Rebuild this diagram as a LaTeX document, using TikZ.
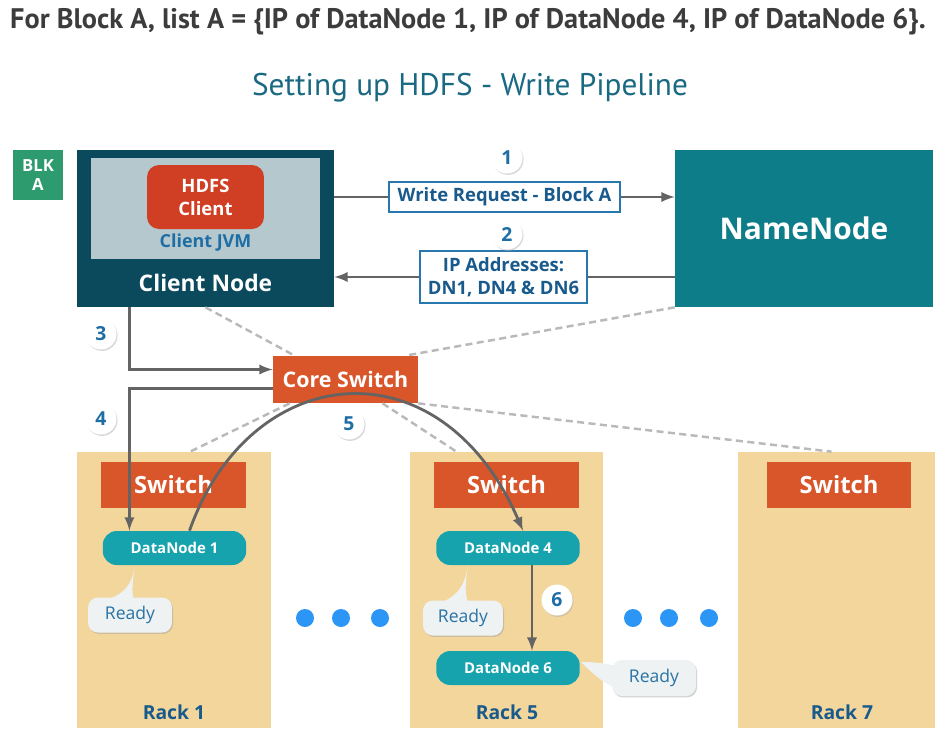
\documentclass[tikz,border=0pt]{standalone}
\usepackage{fontspec}
\setmainfont{Open Sans}
\newfontfamily\headfont{PT Sans}
\usepackage{tikz}
\usetikzlibrary{positioning}
\usetikzlibrary{shapes,arrows,shadows}
\definecolor{clientdark}{RGB}{11,74,92}
\definecolor{jvmgray}{RGB}{180,200,205}
\definecolor{hdfsred}{RGB}{208,63,36}
\definecolor{jvmblue}{RGB}{30,110,165}
\definecolor{nameteal}{RGB}{14,125,138}
\definecolor{msgblue}{RGB}{40,120,175}
\definecolor{msgtext}{RGB}{25,90,140}
\definecolor{arrowgray}{RGB}{100,100,100}
\definecolor{switchorange}{RGB}{217,85,42}
\definecolor{racktan}{RGB}{243,214,156}
\definecolor{dnteal}{RGB}{22,163,174}
\definecolor{readybg}{RGB}{238,242,242}
\definecolor{readytext}{RGB}{40,115,165}
\definecolor{dotblue}{RGB}{43,150,245}
\definecolor{blkgreen}{RGB}{46,155,110}
\definecolor{titlegray}{RGB}{60,60,60}
\definecolor{subteal}{RGB}{25,105,130}
\definecolor{linkgray}{RGB}{185,185,185}

\begin{document}
\begin{tikzpicture}[x=0.02cm,y=-0.02cm]
\tikzstyle{block}=[rectangle, inner sep=0pt, text=white, font=\bfseries]
\tikzstyle{rack}=[rectangle, fill=racktan, inner sep=0pt, minimum height=5.52cm]
\tikzstyle{switchbox}=[block, fill=switchorange, minimum width=2.9cm, minimum height=0.92cm, font=\fontsize{13.5}{16}\bfseries]
\tikzstyle{datanode}=[block, rounded corners=0.28cm, fill=dnteal, minimum width=2.87cm, minimum height=0.68cm, font=\fontsize{8.5}{10}\bfseries]
\tikzstyle{ready}=[rectangle, rounded corners=0.2cm, fill=readybg, text=readytext, inner sep=0pt, minimum height=0.7cm, font=\fontsize{10}{12}\selectfont, drop shadow={shadow xshift=0.6pt, shadow yshift=-0.8pt, fill=black!35}]
\tikzstyle{msg}=[rectangle, draw=msgblue, line width=1.2pt, fill=white, text=msgtext, inner sep=0pt, align=center, font=\fontsize{10.5}{13}\bfseries]
\tikzstyle{stepmark}=[circle, fill=white, text=jvmblue, inner sep=0pt, minimum size=0.62cm, font=\fontsize{11}{12}\bfseries, drop shadow={shadow xshift=0.6pt, shadow yshift=-0.8pt, fill=black!30}]
\tikzstyle{dot}=[circle, fill=dotblue, inner sep=0pt, minimum size=0.36cm]
\tikzstyle{racklabel}=[text=msgtext, font=\fontsize{11}{13}\bfseries]
\tikzstyle{connect}=[-latex, line width=1.6pt, draw=arrowgray]
\tikzstyle{plain}=[line width=1.6pt, draw=arrowgray]
\tikzstyle{link}=[dashed, dash pattern=on 4pt off 2.5pt, line width=1.4pt, draw=linkgray]
\useasboundingbox (0,0) rectangle (943,735);
	\node[text=titlegray, font=\headfont\fontsize{16.1}{19}\bfseries] (title) at (468,22) {For Block A, list A = \{IP of DataNode 1, IP of DataNode 4, IP of DataNode 6\}.};
	\node[text=subteal, font=\headfont\fontsize{17.8}{21}\selectfont] (heading) at (470,88) {Setting up HDFS - Write Pipeline};

	\node[block, fill=blkgreen, minimum size=1cm, align=center, font=\fontsize{9.5}{11}\bfseries] (blk) at (38,175) {BLK\\A};
	\node[block, fill=clientdark, minimum width=5.14cm, minimum height=3.14cm] (client) at (205.5,228.5) {};
	\node[block, fill=jvmgray, minimum width=4.58cm, minimum height=2.02cm] (jvm) at (205.5,208.5) {};
	\node[block, fill=hdfsred, rounded corners=0.24cm, minimum width=2.34cm, minimum height=1.28cm, align=center, font=\fontsize{10.5}{13}\bfseries] (hdfs) at (205.5,197) {HDFS\\Client};
	\node[text=jvmblue, font=\fontsize{10.2}{12}\bfseries] (jvmlabel) at (205.5,243) {Client JVM};
	\node[text=white, font=\fontsize{13}{15}\bfseries] (clientlabel) at (205.5,283) {Client Node};
	\node[block, fill=nameteal, minimum width=5.16cm, minimum height=3.14cm, font=\fontsize{17}{20}\bfseries] (namenode) at (804,228.5) {NameNode};

	\node[msg, minimum width=4.62cm, minimum height=0.6cm] (req) at (504.5,197) {Write Request - Block A};
	\node[msg, minimum width=3.34cm, minimum height=1.04cm] (ip) at (503.5,277) {IP Addresses:\\DN1, DN4 \& DN6};

	\node[block, fill=switchorange, minimum width=2.9cm, minimum height=0.94cm, font=\fontsize{12.2}{14}\bfseries] (core) at (345.5,379.5) {Core Switch};

	\node[rack, minimum width=3.88cm] (rack1) at (174,590) {};
	\node[rack, minimum width=3.86cm] (rack5) at (506.5,590) {};
	\node[rack, minimum width=3.94cm] (rack7) at (836.5,590) {};
	\node[switchbox] (sw1) at (173.5,485) {Switch};
	\node[switchbox] (sw5) at (506.5,485) {Switch};
	\node[switchbox] (sw7) at (839,485) {Switch};
	\node[racklabel] (rack1label) at (174,712) {Rack 1};
	\node[racklabel] (rack5label) at (507,712) {Rack 5};
	\node[racklabel] (rack7label) at (842,712) {Rack 7};

	\node[datanode] (dn1) at (174.5,548) {DataNode 1};
	\node[datanode] (dn4) at (508,548) {DataNode 4};
	\node[datanode] (dn6) at (508,668) {DataNode 6};

	\node[ready, minimum width=1.68cm] (ready1) at (130,615) {Ready};
	\fill[readybg] (100,602) .. controls (125,595) and (132,585) .. (135,565) .. controls (133,580) and (131,590) .. (134,600) -- cycle;
	\node[ready, minimum width=1.6cm] (ready4) at (463,618) {Ready};
	\fill[readybg] (434,605) .. controls (458,598) and (465,585) .. (468,565) .. controls (466,580) and (464,590) .. (468,603) -- cycle;
	\node[ready, minimum width=1.68cm, minimum height=0.72cm] (ready6) at (654,678) {Ready};
	\fill[readybg] (581,662) .. controls (598,662) and (608,664) .. (616,666) -- (616,688) .. controls (604,684) and (591,672) .. (581,662) -- cycle;

	\node[dot] (d1) at (305,618) {};
	\node[dot] (d2) at (341,618) {};
	\node[dot] (d3) at (380,618) {};
	\node[dot] (d4) at (633,618) {};
	\node[dot] (d5) at (669,618) {};
	\node[dot] (d6) at (709,618) {};

	\path[link]
		(client.south) edge ([xshift=0.44cm]core.north west)
		(namenode.south west) edge ([xshift=-0.26cm]core.north east)
		([xshift=0.34cm]core.south west) edge ([xshift=0.32cm]rack1.north)
		([xshift=0.74cm]core.south) edge ([xshift=-1cm]rack5.north)
		(core.south east) edge ([xshift=-0.1cm]rack7.north);

	\draw[plain] (client.east |- req.west) -- (req.west);
	\draw[connect] (req.east) -- (namenode.west |- req.east);
	\draw[plain] (namenode.west |- ip.east) -- (ip.east);
	\draw[connect] (ip.west) -- (client.east |- ip.west);
	\draw[connect] ([xshift=1.06cm]client.south west) |- ([yshift=0.2cm]core.west);
	\draw[connect] ([yshift=-0.18cm]core.west) -| ([xshift=0.54cm]dn1.north west);
	\draw[connect] ([xshift=0.3cm]dn1.north) .. controls (250,360) and (440,340) .. ([xshift=0.3cm]dn4.north);
	\draw[connect] ([xshift=0.48cm]dn4.south) -- ([xshift=0.48cm]dn6.north);

	\node[stepmark] (s1) at (507,158) {1};
	\node[stepmark] (s2) at (507,234) {2};
	\node[stepmark] (s3) at (101,334) {3};
	\node[stepmark] (s4) at (101,419) {4};
	\node[stepmark] (s5) at (349,424) {5};
	\node[stepmark] (s6) at (557,600) {6};
\end{tikzpicture}
\end{document}
